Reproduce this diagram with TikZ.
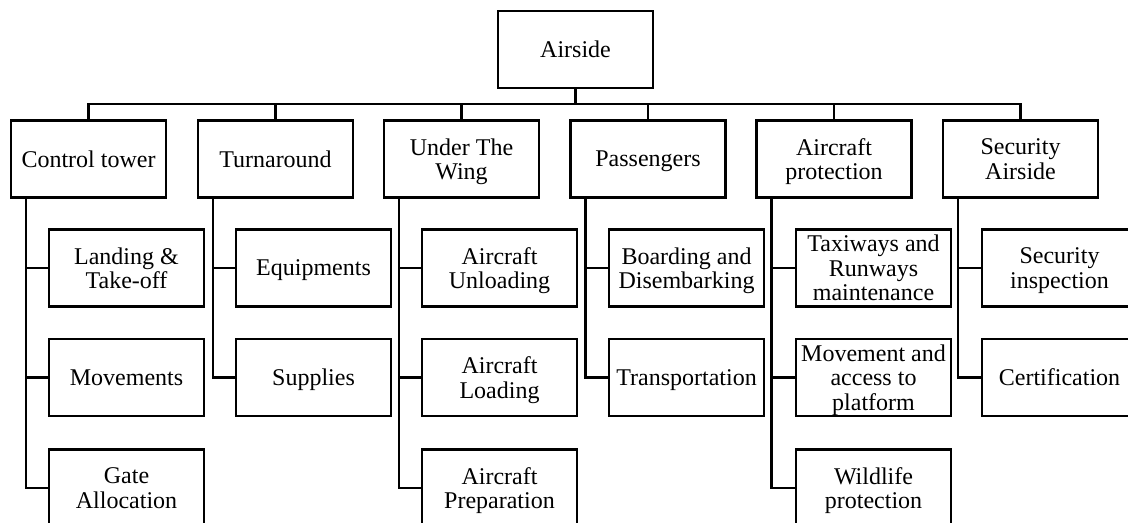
\documentclass[tikz,border=0pt]{standalone}
\usepackage{fontspec}
\setmainfont{Liberation Serif}
\begin{document}
\begin{tikzpicture}[x=0.5pt,y=-0.5pt,
  box/.style={draw,line width=1.1pt,minimum width=77.5pt,minimum height=38.5pt,
    inner sep=0pt,align=center,text depth=0pt,font=\fontsize{12}{12.2}\selectfont},
  link/.style={line width=1.1pt}]
\clip (0,0) rectangle (1128,523);
\useasboundingbox (0,0) rectangle (1128,523);
% root
\node[box] (air) at (575.5,49.5) {Airside};
% level 1
\node[box] (ct)  at (88.5,159)  {Control tower};
\node[box] (tr)  at (275.5,159) {Turnaround};
\node[box] (utw) at (461.5,159) {Under The\\Wing};
\node[box] (pas) at (648,159)   {Passengers};
\node[box] (ap)  at (834,159)   {Aircraft\\protection};
\node[box] (sa)  at (1020.5,159){Security\\Airside};
% level 2
\node[box] (ct1) at (126.5,268)   {Landing \&\\Take-off};
\node[box] (ct2) at (126.5,377.5) {Movements};
\node[box] (ct3) at (126.5,488)   {Gate\\Allocation};
\node[box] (tr1) at (313.5,268)   {Equipments};
\node[box] (tr2) at (313.5,377.5) {Supplies};
\node[box] (ut1) at (499.5,268)   {Aircraft\\Unloading};
\node[box] (ut2) at (499.5,377.5) {Aircraft\\Loading};
\node[box] (ut3) at (499.5,488)   {Aircraft\\Preparation};
\node[box] (pa1) at (686.5,268)   {Boarding and\\Disembarking};
\node[box] (pa2) at (686.5,377.5) {Transportation};
\node[box] (ap1) at (873.5,268)   {Taxiways and\\Runways\\maintenance};
\node[box] (ap2) at (873.5,377.5) {Movement and\\access to\\platform};
\node[box] (ap3) at (873.5,488)   {Wildlife\\protection};
\node[box] (sa1) at (1059.5,268)  {Security\\inspection};
\node[box] (sa2) at (1059.5,377.5){Certification};
% bus
\coordinate (bus) at (575.5,104);
\draw[link] (air.south) -- (bus);
\foreach \n in {ct,tr,utw,pas,ap,sa}
  \draw[link] (\n.north) |- (bus);
% trunks
\foreach \p/\c in {ct/ct1,ct/ct2,ct/ct3,tr/tr1,tr/tr2,utw/ut1,utw/ut2,utw/ut3,
                   pas/pa1,pas/pa2,ap/ap1,ap/ap2,ap/ap3,sa/sa1,sa/sa2}
  \draw[link] ([xshift=8pt]\p.south west) |- (\c.west);
\end{tikzpicture}
\end{document}
